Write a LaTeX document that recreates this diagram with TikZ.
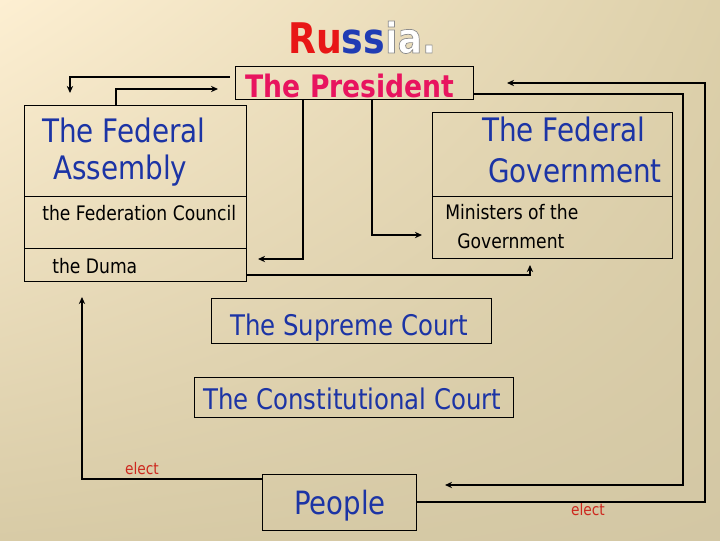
\documentclass[tikz,border=0pt]{standalone}
\usepackage{fontspec}
\setmainfont[FakeStretch=0.86]{DejaVu Sans}
\usepackage{tikz}
\usetikzlibrary{arrows.meta,              % pointes de fleches
           calc,                          % calculs de coordonnees
           shadings,                      % degrade du fond
           positioning}
\definecolor{fedblue}{RGB}{28,52,165}
\definecolor{prespink}{RGB}{232,20,95}
\definecolor{rured}{RGB}{232,22,22}
\definecolor{rublue}{RGB}{32,60,180}
\definecolor{electred}{RGB}{205,40,30}
\definecolor{bgA}{RGB}{253,239,210}
\definecolor{bgB}{RGB}{221,208,170}
\definecolor{bgC}{RGB}{216,203,166}
\definecolor{bgD}{RGB}{211,199,164}
% lettres blanches cernees de gris
\newcommand{\outlined}[1]{\special{pdf:literal direct 2 Tr 0.55 G 0.5 w}#1\special{pdf:literal direct 0 Tr}}
\tikzset{box/.style={draw=black,line width=0.7pt,inner sep=0,outer sep=0},
         txt/.style={inner sep=0,anchor=base west},
         big/.style={txt,text=fedblue,font=\fontsize{23}{27}\selectfont},
         small/.style={txt,font=\fontsize{14.2}{17}\selectfont},
         court/.style={txt,text=fedblue,font=\fontsize{20.2}{24}\selectfont},
         elect/.style={inner sep=0,anchor=base,text=electred,font=\fontsize{11.4}{14}\selectfont},
         conn/.style={line width=1pt,-{Stealth[length=5pt,width=4.5pt]}}}

\begin{document}
\begin{tikzpicture}[x=0.025cm,y=-0.025cm]
\useasboundingbox(0,0)rectangle(720,540);
\shade[upper left=bgA,upper right=bgB,lower left=bgC,lower right=bgD](0,0)rectangle(720,540);
% cadres
\node[box,minimum width=5.925cm,minimum height=0.825cm](pres)at(354.5,82.5){};
\node[box,minimum width=5.525cm,minimum height=2.275cm](fa)at(135.5,150.5){};
\node[box,minimum width=5.525cm,minimum height=1.3cm](council)at(135.5,222){};
\node[box,minimum width=5.525cm,minimum height=0.825cm](duma)at(135.5,264.5){};
\node[box,minimum width=5.975cm,minimum height=2.1cm](fg)at(552.5,154){};
\node[box,minimum width=5.975cm,minimum height=1.55cm](ministers)at(552.5,227){};
\node[box,minimum width=6.975cm,minimum height=1.125cm](supreme)at(351.5,320.5){};
\node[box,minimum width=7.95cm,minimum height=1cm](constit)at(354,397){};
\node[box,minimum width=3.825cm,minimum height=1.4cm](people)at(339.5,502){};
% textes
\node[inner sep=0,anchor=base](title)at(362,53){\fontsize{30}{34}\selectfont\bfseries
  \textcolor{rured}{Ru}\textcolor{rublue}{ss}\textcolor{white}{\outlined{ia.}}};
\node[inner sep=0,anchor=base](prestxt)at(350,97){\fontsize{22}{26}\selectfont\bfseries\color{prespink}The President};
\node[big](fa1)at(42,142){The Federal};
\node[big](fa2)at(53,179){Assembly};
\node[small](counciltxt)at(42,220){the Federation Council};
\node[small](dumatxt)at(52,273){the Duma};
\node[big](fg1)at(482,141){The Federal};
\node[big](fg2)at(488,182){Government};
\node[small](min1)at(445,219){Ministers of the};
\node[small](min2)at(457,248){Government};
\node[court](suptxt)at(230,335){The Supreme Court};
\node[court](contxt)at(203,409){The Constitutional Court};
\node[big,font=\fontsize{22.8}{27}\selectfont](peotxt)at(294,514){People};
\node[elect](elect1)at(142,474){elect};
\node[elect](elect2)at(588,515){elect};
% liaisons
\draw[conn]([shift={(-6,11)}]pres.north west)-|([shift={(45,-12)}]fa.north west);
\draw[conn]([shift={(91,0)}]fa.north west)|-([shift={(-18,23)}]pres.north west);
\draw[conn]([shift={(67,0)}]pres.south west)|-([shift={(12,11)}]duma.north east);
\draw[conn]([shift={(136,0)}]pres.south west)|-([shift={(-11,-23)}]ministers.south west);
\draw[conn]([shift={(0,-6)}]duma.south east)-|([shift={(97,7)}]ministers.south west);
\draw[conn,line width=1.4pt]([shift={(0,-5)}]pres.south east)--++(210,0)|-([shift={(29,11)}]people.north east);
\draw[conn](people.east)--++(289,0)|-([shift={(34,17)}]pres.north east);
\draw[conn]([shift={(0,5)}]people.north west)-|([shift={(57,16)}]duma.south west);
\end{tikzpicture}
\end{document}
